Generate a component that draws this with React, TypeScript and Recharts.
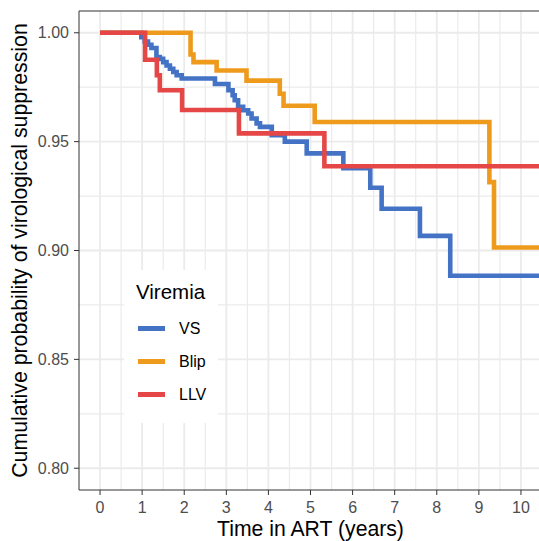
import React from 'react';
import { LineChart, Line, XAxis, YAxis, ReferenceLine, Legend } from 'recharts';

// Kaplan-Meier style steps
const vsTime = [0, 0.98, 1.06, 1.14, 1.22, 1.34, 1.42, 1.5, 1.58, 1.66, 1.74, 1.82, 1.94, 2.73, 3.05, 3.15, 3.2, 3.28, 3.4, 3.52, 3.6, 3.72, 3.8, 4.08, 4.39, 4.91, 5.78, 6.42, 6.69, 7.6, 8.32, 10.5];
const vsSurv = [1, 0.998, 0.996, 0.9945, 0.993, 0.9888, 0.988, 0.9865, 0.985, 0.9835, 0.982, 0.9805, 0.979, 0.9765, 0.9736, 0.9713, 0.969, 0.966, 0.9644, 0.9629, 0.9606, 0.9584, 0.9568, 0.953, 0.95, 0.9446, 0.9378, 0.9288, 0.9192, 0.9067, 0.8884, 0.8884];

const blipTime = [0, 2.15, 2.22, 2.77, 3.48, 4.27, 4.36, 5.1, 9.25, 9.36, 10.5];
const blipSurv = [1, 0.99, 0.9865, 0.9827, 0.978, 0.972, 0.9665, 0.959, 0.9314, 0.9014, 0.9014];

const llvTime = [0, 1.07, 1.35, 1.42, 1.95, 3.3, 5.33, 10.5];
const llvSurv = [1, 0.9876, 0.9805, 0.9736, 0.9645, 0.9538, 0.9387, 0.9387];

const xTicks = [0, 1, 2, 3, 4, 5, 6, 7, 8, 9, 10];
const yTicks = [0.8, 0.85, 0.9, 0.95, 1.0];
const xGrid = [0, 0.5, 1, 1.5, 2, 2.5, 3, 3.5, 4, 4.5, 5, 5.5, 6, 6.5, 7, 7.5, 8, 8.5, 9, 9.5, 10, 10.5];
const yGrid = [0.8, 0.825, 0.85, 0.875, 0.9, 0.925, 0.95, 0.975, 1.0];

const toRows = (t: number[], s: number[]) => t.map((v, i) => ({ t: v, s: s[i] }));

const series = [
  { name: 'VS', color: '#4473C5', data: toRows(vsTime, vsSurv) },
  { name: 'Blip', color: '#EE9B1D', data: toRows(blipTime, blipSurv) },
  { name: 'LLV', color: '#E54646', data: toRows(llvTime, llvSurv) },
];

const font = '"Liberation Sans", Arial, sans-serif';

// legend keeps the factor order (VS, Blip, LLV), not alphabetical
const LegendBox = () => (
  <div style={{ background: '#fff', fontFamily: font, padding: '10px 0 12px 12px', width: 82 }}>
    <div style={{ fontSize: 20.5, marginBottom: 8 }}>Viremia</div>
    {series.map((s) => (
      <div key={s.name} style={{ display: 'flex', alignItems: 'center', height: 33 }}>
        <span style={{ display: 'inline-block', width: 27, height: 5, background: s.color, marginLeft: 2 }} />
        <span style={{ fontSize: 16, marginLeft: 14 }}>{s.name}</span>
      </div>
    ))}
  </div>
);

export default function App() {
  return (
    <div style={{ position: 'fixed', left: 0, top: 0, width: 539, height: 541, overflow: 'hidden', background: '#fff' }}>
      <LineChart width={560} height={541} margin={{ top: 11, right: 18, left: 0, bottom: 0 }}>
        {xGrid.map((g) => (
          <ReferenceLine key={'x' + g} x={g} stroke="#EBEBEB" strokeWidth={g % 1 === 0 ? 1.8 : 1.2} />
        ))}
        {yGrid.map((g) => (
          <ReferenceLine key={'y' + g} y={g} stroke="#EBEBEB" strokeWidth={Math.round(g * 1000) % 50 === 0 ? 1.8 : 1.2} />
        ))}
        <ReferenceLine y={1.01} stroke="#333" strokeWidth={1.2} />
        <XAxis
          dataKey="t"
          type="number"
          domain={[-0.5, 10.5]}
          ticks={xTicks}
          allowDataOverflow
          height={51}
          tickSize={5}
          tickMargin={7}
          stroke="#333"
          tick={{ fill: '#4D4D4D', fontSize: 16, fontFamily: font }}
          label={{
            content: ({ viewBox }: any) => (
              <text x={viewBox.x + viewBox.width / 2} y={viewBox.y + 46} textAnchor="middle" fontSize={21.2} fontFamily={font} fill="#000">
                Time in ART (years)
              </text>
            ),
          }}
        />
        <YAxis
          type="number"
          domain={[0.79, 1.01]}
          ticks={yTicks}
          allowDataOverflow
          width={79}
          tickSize={5}
          tickMargin={5}
          stroke="#333"
          tickFormatter={(v: number) => v.toFixed(2)}
          tick={{ fill: '#4D4D4D', fontSize: 16, fontFamily: font }}
          label={{
            content: ({ viewBox }: any) => {
              const cx = 27;
              const cy = viewBox.y + viewBox.height / 2;
              return (
                <text x={cx} y={cy} transform={`rotate(-90 ${cx} ${cy})`} textAnchor="middle" fontSize={21.3} fontFamily={font} fill="#000">
                  Cumulative probability of virological suppression
                </text>
              );
            },
          }}
        />
        <Legend
          layout="horizontal"
          verticalAlign="middle"
          content={<LegendBox />}
          wrapperStyle={{ left: 124, top: 270, width: 94 }}
        />
        {series.map((s) => (
          <Line
            key={s.name}
            data={s.data}
            dataKey="s"
            name={s.name}
            type="stepAfter"
            stroke={s.color}
            strokeWidth={4.6}
            dot={false}
            activeDot={false}
            isAnimationActive={false}
          />
        ))}
      </LineChart>
    </div>
  );
}
